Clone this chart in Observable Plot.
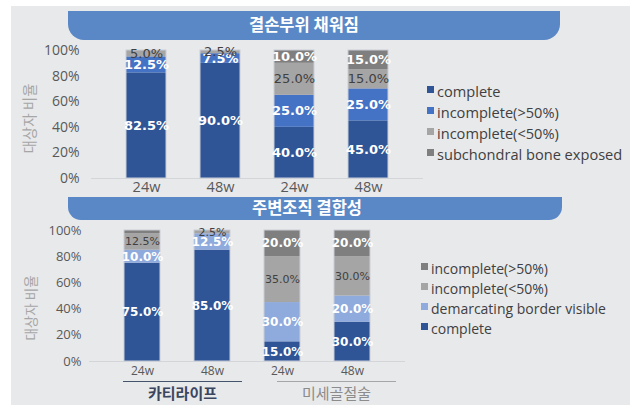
<!DOCTYPE html>
<html><head><meta charset="utf-8">
<script src="https://cdn.jsdelivr.net/npm/d3@7"></script>
<script src="https://cdn.jsdelivr.net/npm/@observablehq/plot@0.6"></script>
<style>
body{margin:0;background:#fff;}
#root{position:relative;width:630px;height:405px;overflow:hidden;font-family:"Open Sans","Noto Sans CJK KR",sans-serif;}
.panel{position:absolute;left:11px;top:6px;right:0;bottom:0;background:#e8e9eb;}
.banner{position:absolute;background:#5a88c6;color:#fff;font-weight:bold;font-family:"Noto Sans CJK KR",sans-serif;display:flex;align-items:center;justify-content:center;box-sizing:border-box;}
.chart{position:absolute;left:0;}
.leg{position:absolute;display:flex;align-items:center;white-space:nowrap;color:#404040;height:20px;}
.leg i{display:inline-block;width:7px;height:7px;margin-right:3px;margin-top:-3px;}
.grp{position:absolute;font-family:"Noto Sans CJK KR",sans-serif;font-size:15px;text-align:center;}
.gline{position:absolute;height:0;}
</style></head>
<body><div id="root">
<div class="panel"></div>
<div class="banner" id="b1" style="left:68px;top:11px;width:492px;height:29px;border-radius:0 0 16px 16px;font-size:16.5px;padding-right:20px;padding-bottom:3px;"></div>
<div class="chart" id="p1" style="top:40px"></div>
<div class="banner" id="b2" style="left:68px;top:197px;width:494px;height:23px;border-radius:0 0 13px 13px;font-size:16.5px;padding-right:16px;padding-bottom:3px;"></div>
<div class="chart" id="p2" style="top:220px"></div>
</div>
<script>
// ---------- data ----------
const barIds = ["catilife-24w", "catilife-48w", "microfracture-24w", "microfracture-48w"];
const tickLabels = ["24w", "48w", "24w", "48w"];
const groupNames = ["카티라이프", "미세골절술"];
const yTicks = [0, 20, 40, 60, 80, 100];
const yTitle = "대상자 비율";

// panel 1: 결손부위 채워짐
const title1 = "결손부위 채워짐";
const series1 = ["complete", "incomplete(>50%)", "incomplete(<50%)", "subchondral bone exposed"];
const colors1 = ["#2f5597", "#4472c4", "#a5a5a5", "#7f7f7f"];
const complete1 = [82.5, 90.0, 40.0, 45.0];
const incGt1 = [12.5, 7.5, 25.0, 25.0];
const incLt1 = [5.0, 2.5, 25.0, 15.0];
const subch1 = [0, 0, 10.0, 15.0];

// panel 2: 주변조직 결합성 (stack order bottom -> top)
const title2 = "주변조직 결합성";
const series2 = ["complete", "demarcating border visible", "incomplete(<50%)", "incomplete(>50%)"];
const colors2 = ["#2f5597", "#8faadc", "#a5a5a5", "#7f7f7f"];
const complete2 = [75.0, 85.0, 15.0, 30.0];
const demarc2 = [10.0, 12.5, 30.0, 20.0];
const incLt2 = [12.5, 2.5, 35.0, 30.0];
const incGt2 = [2.5, 0, 20.0, 20.0];
const unlabeled2 = [["catilife-24w", "incomplete(>50%)"]];

// ---------- build ----------
function makeRows(seriesNames, lists) {
  const rows = [];
  barIds.forEach((id, i) => seriesNames.forEach((s, k) => {
    const v = lists[k][i];
    if (v > 0) rows.push({bar: id, series: s, value: v});
  }));
  return rows;
}
const rows1 = makeRows(series1, [complete1, incGt1, incLt1, subch1]);
const rows2 = makeRows(series2, [complete2, demarc2, incLt2, incGt2]);
const totals = rows => barIds.map(id => ({bar: id, total: d3.sum(rows.filter(r => r.bar === id), r => r.value)}));
const tickMap = new Map(barIds.map((id, i) => [id, tickLabels[i]]));
const fmt = v => v.toFixed(1) + "%";
const LIGHT = "incomplete(<50%)";

function chart(o) {
  const hidden = new Set((o.unlabeled || []).map(p => p.join("|")));
  const shown = d => !hidden.has(d.bar + "|" + d.series);
  const svg = Plot.plot({
    width: o.width, height: o.height,
    marginTop: o.mt, marginBottom: o.mb, marginLeft: o.ml, marginRight: o.mr,
    style: {background: "transparent", fontFamily: "'Open Sans', sans-serif", fontSize: o.tickFont + "px", color: "#595959", overflow: "visible"},
    x: {domain: barIds, padding: o.pad, tickFormat: d => tickMap.get(d), label: null, tickSize: 0, tickPadding: o.xpad},
    y: {domain: [0, 100], ticks: yTicks, tickFormat: d => d + "%", label: null, tickSize: 0, tickPadding: o.ypad},
    color: {domain: o.series, range: o.colors},
    marks: [
      Plot.ruleY([0], {stroke: "#d3d5d9", strokeWidth: 1.2}),
      Plot.barY(o.rows, {x: "bar", y: "value", z: "series", fill: "series", order: o.series}),
      Plot.barY(totals(o.rows), {x: "bar", y: "total", fill: "none", stroke: "#c9ced6", strokeWidth: 1}),
      Plot.text(o.rows, Plot.stackY({x: "bar", y: "value", z: "series", order: o.series,
        text: d => (d.series !== LIGHT && shown(d)) ? fmt(d.value) : null,
        fill: "white", fontWeight: "bold", fontFamily: "DejaVu Sans", fontSize: o.lblFont})),
      Plot.text(o.rows, Plot.stackY({x: "bar", y: "value", z: "series", order: o.series,
        text: d => (d.series === LIGHT && shown(d)) ? fmt(d.value) : null,
        fill: "#404040", fontFamily: "DejaVu Sans", fontSize: o.darkFont})),
      Plot.text([yTitle], {frameAnchor: "left", rotate: -90, textAnchor: "middle", dx: o.titleDx, dy: o.titleDy,
        fill: "#a6a6a6", fontSize: o.titleFont, fontFamily: "Noto Sans CJK KR"})
    ]
  });
  d3.select(svg).selectAll('[aria-label^="x-axis"] text').style("font-size", o.xFont + "px");
  return svg;
}

document.getElementById("b1").textContent = title1;
document.getElementById("b2").textContent = title2;

document.getElementById("p1").appendChild(chart({
  width: 430, height: 160, mt: 10, mb: 22, ml: 91, mr: 7, pad: 0.46, xpad: 3, ypad: 12,
  tickFont: 14, xFont: 14.5, lblFont: 13, darkFont: 13, titleDx: -61, titleDy: 4, titleFont: 14.5,
  series: series1, colors: colors1, rows: rows1
}));
document.getElementById("p2").appendChild(chart({
  width: 410, height: 160, mt: 10, mb: 19, ml: 89, mr: 5, pad: 0.49, xpad: 5, ypad: 8,
  tickFont: 13, xFont: 12, lblFont: 12, darkFont: 11, titleDx: -58, titleDy: 12, titleFont: 13.5,
  series: series2, colors: colors2, rows: rows2, unlabeled: unlabeled2
}));

// legends (HTML)
const root = document.getElementById("root");
function legend(names, cols, left, y0, step, size) {
  names.forEach((n, i) => {
    const el = document.createElement("div");
    el.className = "leg";
    el.style.left = left + "px";
    el.style.top = (y0 + i * step - 10) + "px";
    el.style.fontSize = size + "px";
    el.innerHTML = `<i style="background:${cols[i]}"></i><span></span>`;
    el.querySelector("span").textContent = n;
    root.appendChild(el);
  });
}
legend(series1, colors1, 427, 91, 21, 14.6);
const leg2 = series2.slice().reverse();
legend(leg2, leg2.map(s => colors2[series2.indexOf(s)]), 421, 268, 20, 14);

// group underline + labels
const groups = [
  {name: groupNames[0], x1: 123, x2: 242, line: "#44546a", color: "#3a4660", weight: "bold"},
  {name: groupNames[1], x1: 277, x2: 396, line: "#a6a6a6", color: "#8c8c8c", weight: "normal"}
];
groups.forEach(g => {
  const l = document.createElement("div");
  l.className = "gline";
  l.style.cssText += `left:${g.x1}px;width:${g.x2 - g.x1}px;top:381px;border-top:1.5px solid ${g.line};`;
  root.appendChild(l);
  const t = document.createElement("div");
  t.className = "grp";
  t.textContent = g.name;
  t.style.cssText += `left:${(g.x1 + g.x2) / 2 - 60}px;width:120px;top:383px;color:${g.color};font-weight:${g.weight};line-height:20px;`;
  root.appendChild(t);
});
</script>
</body></html>
